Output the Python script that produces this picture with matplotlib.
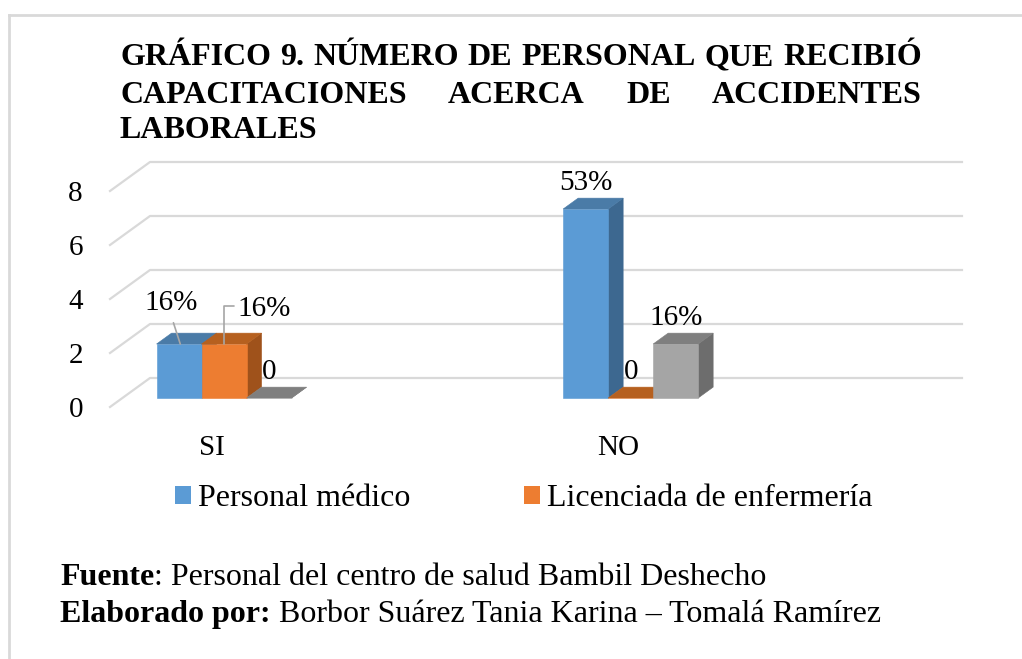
import numpy as np
import matplotlib.pyplot as plt
from matplotlib.patches import Polygon, Patch
from matplotlib.lines import Line2D

plt.rcParams['font.family'] = ['Liberation Serif', 'DejaVu Serif']

# datos del grafico
categorias = ['SI', 'NO']
series = ['Personal médico', 'Licenciada de enfermería', 'Serie 3']
medico = [2, 7]
enfermeria = [2, 0]
serie3 = [0, 2]
etiq_medico = ['16%', '53%']
etiq_enfermeria = ['16%', '0']
etiq_serie3 = ['0', '16%']
yticks = [0, 2, 4, 6, 8]

titulo = [['GRÁFICO', '9.', 'NÚMERO', 'DE', 'PERSONAL', 'QUE', 'RECIBIÓ'],
          ['CAPACITACIONES', 'ACERCA', 'DE', 'ACCIDENTES'],
          ['LABORALES']]

colores = [('#5B9BD5', '#4A7BA7', '#3D6890'),   # frente, techo, lado
           ('#ED7D31', '#B6601F', '#9F521B'),
           ('#A5A5A5', '#7F7F7F', '#6D6D6D')]

#-------------------------------------------------------------------------------
W, H = 1022, 659
fig = plt.figure(figsize=(W / 100, H / 100), dpi=100)
fx = lambda x: x / W
fy = lambda y: 1 - y / H

# eje: 406.6 px por categoria, 27 px por unidad
XU, YU = 406.6, 27.0
ax = fig.add_axes([fx(110), fy(407), 852 / W, 257 / H])
ax.set_xlim(-0.25, -0.25 + 852 / XU)
ax.set_ylim(0, 257 / YU)
for s in ax.spines.values():
    s.set_visible(False)
ax.set_xticks(range(len(categorias)))
ax.set_xticklabels(categorias)
ax.set_yticks(yticks)
ax.tick_params(length=0, labelsize=21)
ax.tick_params(axis='y', pad=19.5)
ax.tick_params(axis='x', pad=20)

# profundidad (pseudo 3d)
DX, DY = 40 / XU, 29 / YU
z0, z1 = 0.31, 0.685
w = 45 / XU
xmin, xmax = -0.25, 1.747

def P(c, v, z):
    return (c + z * DX, v + z * DY)

# rejilla: pared lateral + pared de fondo
for v in yticks:
    pts = [P(xmin, v, 0), P(xmin, v, 1), P(xmax, v, 1)]
    ax.plot([p[0] for p in pts], [p[1] for p in pts], color='#D9D9D9', lw=1.6,
            clip_on=False, zorder=1)

def bar3d(c, v, cols):
    x0, x1 = c - w / 2, c + w / 2
    front = [P(x0, 0, z0), P(x1, 0, z0), P(x1, v, z0), P(x0, v, z0)]
    top = [P(x0, v, z0), P(x1, v, z0), P(x1, v, z1), P(x0, v, z1)]
    side = [P(x1, 0, z0), P(x1, 0, z1), P(x1, v, z1), P(x1, v, z0)]
    for pts, col in [(side, cols[2]), (front, cols[0]), (top, cols[1])]:
        ax.add_patch(Polygon(pts, closed=True, fc=col, ec=col, lw=0.4,
                             clip_on=False, zorder=2))

datos = [medico, enfermeria, serie3]
etiquetas = [etiq_medico, etiq_enfermeria, etiq_serie3]
for i in range(len(categorias)):
    for j in range(3):
        c = i + (j - 1) * w
        bar3d(c, datos[j][i], colores[j])

# etiquetas de datos
for i in range(len(categorias)):
    for j in range(3):
        c = i + (j - 1) * w
        xy = P(c, datos[j][i], z0)
        if i == 0 and j == 0:
            ax.annotate(etiquetas[j][i], xy=(xy[0] + 0.003, xy[1]), xytext=(-9, 34),
                        textcoords='offset pixels', ha='center', va='baseline',
                        fontsize=21, annotation_clip=False,
                        arrowprops=dict(arrowstyle='-', color='#A6A6A6', lw=1.2,
                                        relpos=(0.5, 0), shrinkA=3, shrinkB=0))
        elif i == 0 and j == 1:
            ax.annotate(etiquetas[j][i], xy=xy, xytext=(13, 28),
                        textcoords='offset pixels', ha='left', va='baseline',
                        fontsize=21, annotation_clip=False,
                        arrowprops=dict(arrowstyle='-', color='#A6A6A6', lw=1.2,
                                        relpos=(0, 0.62), shrinkA=0, shrinkB=0,
                                        connectionstyle='angle,angleA=0,angleB=90,rad=0'))
        else:
            ax.annotate(etiquetas[j][i], xy=xy, xytext=(0, 19),
                        textcoords='offset pixels', ha='center', va='baseline',
                        fontsize=21, annotation_clip=False)

# leyenda (la tercera serie no aparece)
handles = [Patch(fc=colores[0][0]), Patch(fc=colores[1][0])]
fig.legend(handles, series[:2], loc='center left', bbox_to_anchor=(fx(175), fy(499)),
           ncol=2, frameon=False, fontsize=23, handlelength=0.5, handleheight=0.47,
           handletextpad=0.22, columnspacing=3.55, borderpad=0, borderaxespad=0)

# titulo justificado
r = fig.canvas.get_renderer()

def justificar(words, y, left, right, **kw):
    ts = [fig.text(0, fy(y), wd, va='baseline', **kw) for wd in words]
    ws = [t.get_window_extent(r).width for t in ts]
    gap = (right - left - sum(ws)) / max(len(words) - 1, 1)
    x = left
    for t, wd in zip(ts, ws):
        t.set_x(fx(x))
        x += wd + gap

justificar(titulo[0], 65, 120, 922, fontsize=23, fontweight='bold')
justificar(titulo[1], 103, 120, 922, fontsize=23, fontweight='bold')
fig.text(fx(120), fy(138), titulo[2][0], va='baseline', fontsize=23, fontweight='bold')

# fuente
def linea(bold, normal, x, y):
    t = fig.text(fx(x), fy(y), bold, va='baseline', fontsize=23, fontweight='bold')
    wb = t.get_window_extent(r).width
    fig.text(fx(x + wb), fy(y), normal, va='baseline', fontsize=23)

linea('Fuente', ': Personal del centro de salud Bambil Deshecho', 60, 585)
linea('Elaborado por:', ' Borbor Suárez Tania Karina – Tomalá Ramírez', 60, 622)

# marco
fig.add_artist(Line2D([fx(9), fx(9)], [0, fy(15)], color='#D9D9D9', lw=2))
fig.add_artist(Line2D([fx(9), 1], [fy(15), fy(15)], color='#D9D9D9', lw=2))

fig.savefig('out.png', dpi=100)
